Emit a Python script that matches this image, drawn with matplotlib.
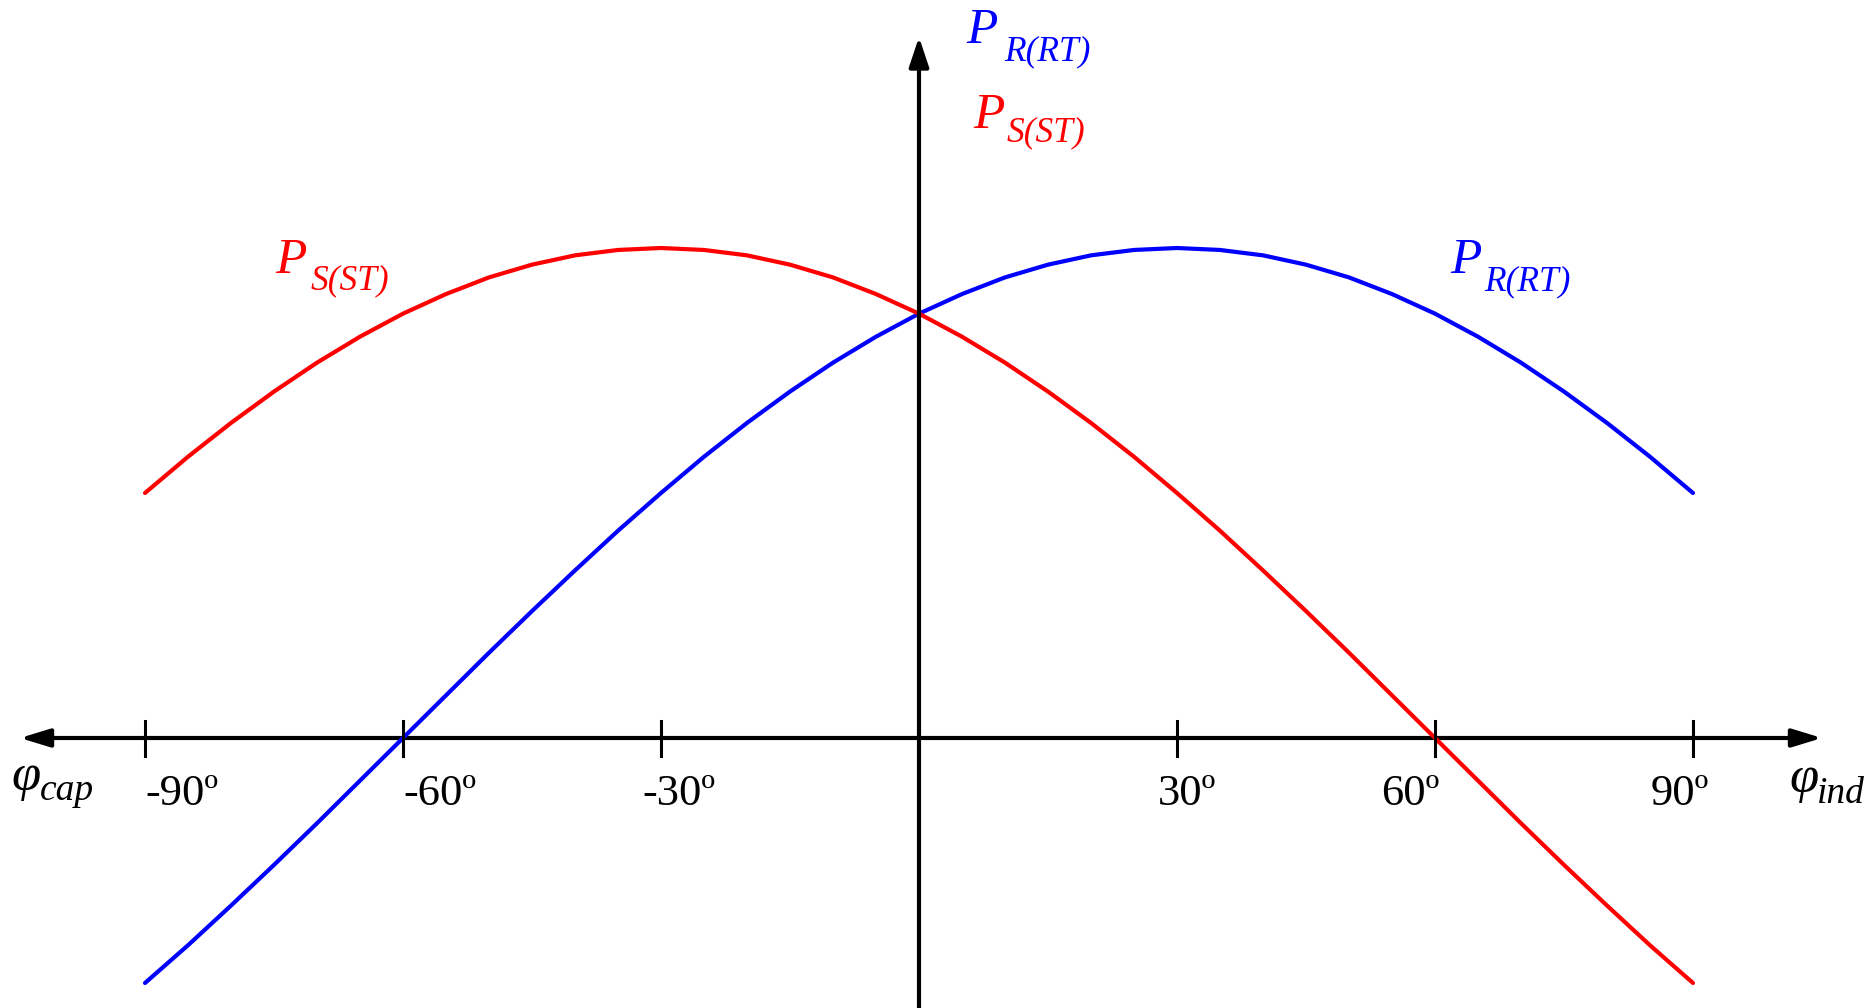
import numpy as np
import matplotlib.pyplot as plt

# phase angle (deg) and power values of the two wattmeters
phi = [-90, -85, -80, -75, -70, -65, -60, -55, -50, -45, -40, -35, -30, -25, -20, -15, -10, -5,
       0, 5, 10, 15, 20, 25, 30, 35, 40, 45, 50, 55, 60, 65, 70, 75, 80, 85, 90]
p_r = [-0.500, -0.423, -0.342, -0.259, -0.174, -0.087, 0.000, 0.087, 0.174, 0.259, 0.342,
       0.423, 0.500, 0.574, 0.643, 0.707, 0.766, 0.819, 0.866, 0.906, 0.940, 0.966, 0.985,
       0.996, 1.000, 0.996, 0.985, 0.966, 0.940, 0.906, 0.866, 0.819, 0.766, 0.707, 0.643,
       0.574, 0.500]
p_s = p_r[::-1]

tick_vals = [-90, -60, -30, 30, 60, 90]
tick_labels = ['-90º', '-60º', '-30º', '30º', '60º', '90º']
tick_label_x = [-85.7, -55.7, -27.9, 31.2, 57.1, 88.5]

W, H = 1869, 1008
X0, Y0 = 919, 738      # origin in pixels
SX, SY = 8.6, 490      # pixels per degree / per unit


def px(x, y):
    # pixel position (from top-left) -> data coordinates
    return (x - X0) / SX, (Y0 - y) / SY


fig = plt.figure(figsize=(W / 100, H / 100), dpi=100)
ax = fig.add_axes([0, 0, 1, 1])
ax.set_xlim(px(0, 0)[0], px(W, 0)[0])
ax.set_ylim(px(0, H)[1], px(0, 0)[1])
ax.axis('off')

serif = 'Liberation Serif'

# curves
ax.plot(phi, p_r, color='#0000ff', lw=3, solid_capstyle='round', zorder=3)
ax.plot(phi, p_s, color='#ff0000', lw=3, solid_capstyle='round', zorder=3)

# horizontal axis with arrows at both ends
ax.annotate('', xy=px(1822, Y0), xytext=px(20, Y0),
            arrowprops=dict(arrowstyle='<|-|>,head_length=18,head_width=5.5', mutation_scale=1,
                            lw=3, color='black', shrinkA=0, shrinkB=0), zorder=2)
# vertical axis
ax.annotate('', xy=px(X0, 37), xytext=px(X0, H + 5),
            arrowprops=dict(arrowstyle='-|>,head_length=18,head_width=6', mutation_scale=1,
                            lw=3, color='black', shrinkA=0, shrinkB=0), zorder=4)

# ticks and labels
th = 17.5 / SY
for t, lab, lx in zip(tick_vals, tick_labels, tick_label_x):
    ax.plot([t, t], [-th, th], color='black', lw=2.2, zorder=4)
    ax.text(lx, px(0, 805)[1], lab, ha='center', va='baseline', fontsize=32, family=serif)


def label(x, y, main, sub, sx, sy, color, size=37, subsize=25.5):
    ax.text(*px(x, y), main, color=color, fontsize=size, family=serif, style='italic',
            ha='left', va='baseline')
    ax.text(*px(sx, sy), sub, color=color, fontsize=subsize, family=serif, style='italic',
            ha='left', va='baseline')


label(966, 43, 'P', 'R(RT)', 1004, 60, '#0000ff')
label(973, 128, 'P', 'S(ST)', 1007, 141, '#ff0000')
label(275, 273, 'P', 'S(ST)', 311, 289, '#ff0000')
label(1450, 273, 'P', 'R(RT)', 1484, 290, '#0000ff')

label(11, 790, 'φ', 'cap', 40, 800, 'black', size=38, subsize=27)
label(1789, 792, 'φ', 'ind', 1817, 803, 'black', size=38, subsize=27)

fig.savefig('out.png', dpi=100)
